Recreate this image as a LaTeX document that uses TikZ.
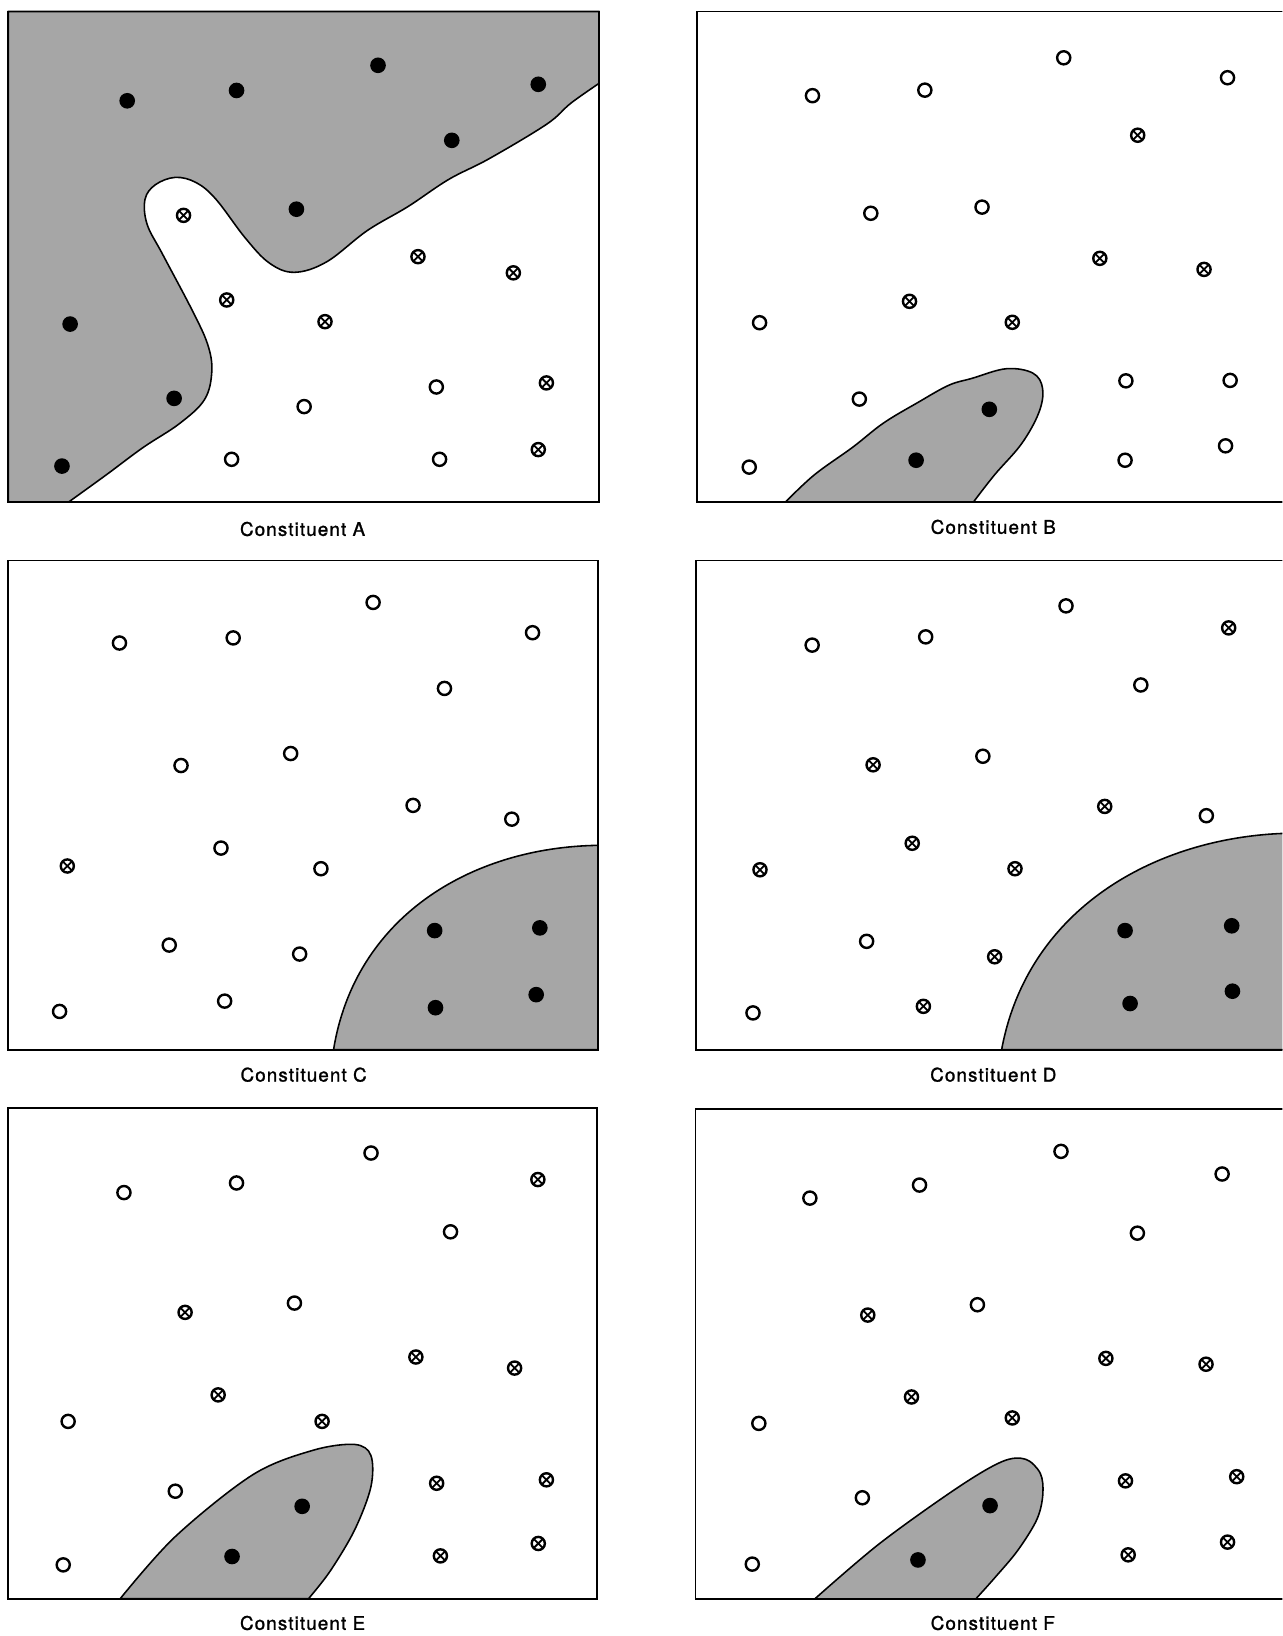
\documentclass[tikz,border=0pt]{standalone}
\usepackage{fontspec}
\newfontfamily\labelfont{TeX Gyre Heros}[LetterSpace=6,FakeBold=1.4]
\definecolor{shade}{gray}{0.65}
\tikzset{
  solidpt/.style={circle,fill=black,inner sep=0pt,minimum size=15pt},
  openpt/.style={circle,draw=black,fill=white,line width=2.3pt,inner sep=0pt,minimum size=12.6pt},
  crosspt/.style={circle,draw=black,fill=white,line width=2.3pt,inner sep=0pt,minimum size=12.6pt,
    path picture={\draw[line width=1.7pt] (path picture bounding box.north west) -- (path picture bounding box.south east)
      (path picture bounding box.north east) -- (path picture bounding box.south west);}},
  panelbox/.style={draw=black,line width=1.8pt},
  region/.style={fill=shade,draw=black,line width=1.5pt},
  caption/.style={font=\labelfont\fontsize{18}{20}\selectfont,inner sep=0pt}
}
\begin{document}
\begin{tikzpicture}[x=1pt,y=-1pt]
\useasboundingbox (0,0) rectangle (1229,1568);
\fill[white] (0,0) rectangle (1229,1568);
\clip (0,0) rectangle (1229,1568);

% ---------- Panel A ----------
\filldraw[region] (8,11) -- (8,481) -- plot[smooth,tension=0.6] coordinates {(66,481) (102,455) (137,429) (172,406) (196,383) (203,356) (199,330) (184,297) (156,244) (141,215) (139,191) (149,177) (168,170) (188,175) (207,191) (235,228) (258,252) (282,261) (313,251) (352,221) (391,198) (430,172) (469,152) (524,119) (547,99) (574,80)} -- (574,11) -- cycle;
\draw[panelbox] (8,11) rectangle (574,481);
\foreach \x/\y [count=\i] in {121.9/96.6, 226.7/86.7, 362.3/62.6, 515.9/80.8, 433/134.5, 284.1/200.5, 67.2/310.6, 166.9/381.8, 59.4/446.7}
  \node[solidpt] (A-s\i) at (\x,\y) {};
\foreach \x/\y [count=\i] in {175.9/206.4, 400.6/246, 492/261.5, 217.3/287.5, 311.5/308.3, 523.7/367, 515.9/430.9}
  \node[crosspt] (A-c\i) at (\x,\y) {};
\foreach \x/\y [count=\i] in {291.5/389.7, 418.2/370.9, 222/440.2, 421.3/440.2}
  \node[openpt] (A-o\i) at (\x,\y) {};
\node[caption] (capA) at (290,507) {Constituent A};

% ---------- Panel B ----------
\filldraw[region] plot[smooth,tension=0.6] coordinates {(753,481) (780.6,455) (817.3,428.6) (846.7,405.5) (879.8,385.7) (909.2,369.3) (931.3,362.7) (964.4,353.4) (990.1,357.7) (999.3,372.6) (995.6,395.6) (979.1,425.3) (953.3,455) (933.1,481)} -- cycle;
\draw[panelbox] (1240,11) -- (668,11) -- (668,481) -- (1240,481);
\foreach \x/\y [count=\i] in {948.2/392.3, 878.0/441.1}
  \node[solidpt] (B-s\i) at (\x,\y) {};
\foreach \x/\y [count=\i] in {1090.4/129.6, 1054.1/247.6, 1154.0/258.2, 871.7/288.8, 970.2/308.9}
  \node[crosspt] (B-c\i) at (\x,\y) {};
\foreach \x/\y [count=\i] in {778.7/91.7, 886.4/86.4, 1019.5/55.4, 1176.5/74.5, 834.6/204.4, 941.2/198.5, 728.0/309.3, 823.6/382.5, 718.1/447.7, 1079.1/365.0, 1179.0/364.6, 1078.3/441.1, 1174.6/427.3}
  \node[openpt] (B-o\i) at (\x,\y) {};
\node[caption] (capB) at (952,505) {Constituent B};

% ---------- Panel C ----------
\filldraw[region] (319.7,1006) .. controls (340,880) and (450,812) .. (573.3,810.2) -- (573.3,1006) -- cycle;
\draw[panelbox] (7.8,537.2) rectangle (573.3,1006);
\foreach \x/\y [count=\i] in {416.6/891.9, 517.4/889.3, 417.4/965.8, 513.9/953.3}
  \node[solidpt] (C-s\i) at (\x,\y) {};
\node[crosspt] (C-c1) at (64.5,830) {};
\foreach \x/\y [count=\i] in {114.5/616.3, 223.5/611.4, 357.6/577.4, 510.4/606.4, 426.0/659.8, 173.5/733.7, 278.6/722.2, 395.9/771.9, 490.5/785.1, 211.8/812.8, 307.6/832.6, 162.2/905.8, 287.2/914.4, 57.1/969.4, 215.3/959.5}
  \node[openpt] (C-o\i) at (\x,\y) {};
\node[caption] (capC) at (291,1030) {Constituent C};

% ---------- Panel D ----------
\filldraw[region] (960,1006) .. controls (985,870) and (1110,800) .. (1240,798.5) -- (1240,1006) -- cycle;
\draw[panelbox] (1240,537.2) -- (667.3,537.2) -- (667.3,1006) -- (1240,1006);
\foreach \x/\y [count=\i] in {1078.3/891.9, 1180.5/887.3, 1083.1/961.8, 1181.2/950.0}
  \node[solidpt] (D-s\i) at (\x,\y) {};
\foreach \x/\y [count=\i] in {1177.6/601.8, 836.8/733.0, 1058.8/772.9, 874.3/808.2, 728.4/833.6, 972.8/832.6, 953.3/917.0, 885.0/964.5}
  \node[crosspt] (D-c\i) at (\x,\y) {};
\foreach \x/\y [count=\i] in {778.4/618.3, 887.2/610.4, 1021.7/580.7, 1093.4/656.5, 942.0/724.8, 1156.2/781.8, 830.6/902.2, 721.7/970.8}
  \node[openpt] (D-o\i) at (\x,\y) {};
\node[caption] (capD) at (952,1030) {Constituent D};

% ---------- Panel E ----------
\filldraw[region] plot[smooth,tension=0.55] coordinates {(115.3,1532.1) (168,1472.7) (242.3,1413.4) (300,1390) (340,1384.4) (355.5,1395) (355.5,1425) (340,1466.1) (316.5,1505.7) (295.8,1532.1)} -- cycle;
\draw[panelbox] (7.8,1062.2) rectangle (572.5,1532.1);
\foreach \x/\y [count=\i] in {289.6/1443.7, 222.4/1491.8}
  \node[solidpt] (E-s\i) at (\x,\y) {};
\foreach \x/\y [count=\i] in {515.5/1130.5, 177.4/1257.8, 398.6/1300.6, 493.2/1311.2, 209.1/1336.9, 308.7/1362.3, 418.5/1421.6, 523.7/1418.3, 422.1/1491.2, 515.9/1479.3}
  \node[crosspt] (E-c\i) at (\x,\y) {};
\foreach \x/\y [count=\i] in {118.8/1143.0, 226.7/1133.8, 355.6/1105.1, 431.8/1180.6, 282.2/1248.9, 65.3/1362.3, 168.0/1429.2, 60.6/1499.8}
  \node[openpt] (E-o\i) at (\x,\y) {};
\node[caption] (capE) at (290,1555.5) {Constituent E};

% ---------- Panel F ----------
\filldraw[region] plot[smooth,tension=0.55] coordinates {(780.6,1532.7) (843.1,1479.3) (916.6,1426.6) (960,1401) (982.7,1398.5) (997,1412) (999.5,1432) (993.8,1456.2) (975.4,1486) (953.3,1512.3) (935,1532.7)} -- cycle;
\draw[panelbox] (1240,1062.9) -- (666.6,1062.9) -- (666.6,1532.7) -- (1240,1532.7);
\foreach \x/\y [count=\i] in {948.9/1443.0, 879.8/1495.1}
  \node[solidpt] (F-s\i) at (\x,\y) {};
\foreach \x/\y [count=\i] in {831.7/1260.4, 1059.9/1301.9, 1155.9/1307.5, 873.6/1338.9, 970.2/1359.0, 1078.7/1419.3, 1185.3/1415.3, 1081.3/1490.2, 1176.5/1478.0}
  \node[crosspt] (F-c\i) at (\x,\y) {};
\foreach \x/\y [count=\i] in {776.2/1148.3, 881.3/1135.8, 1016.9/1103.5, 1171.3/1125.2, 1090.1/1181.9, 936.8/1250.5, 727.3/1364.2, 826.5/1435.5, 721.0/1499.1}
  \node[openpt] (F-o\i) at (\x,\y) {};
\node[caption] (capF) at (951.5,1555.5) {Constituent F};
\end{tikzpicture}
\end{document}
